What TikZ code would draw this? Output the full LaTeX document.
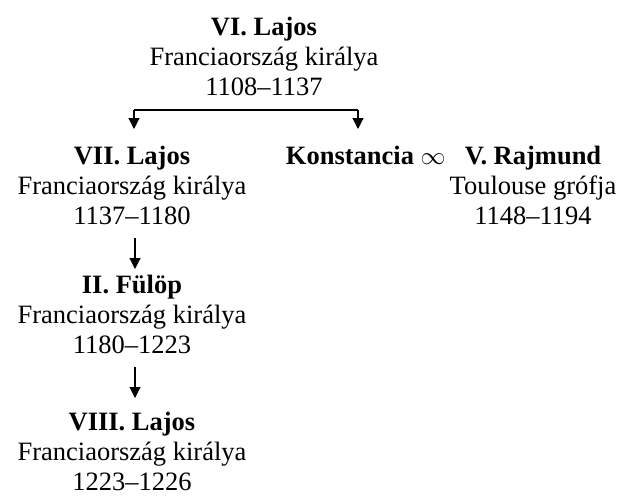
\documentclass[tikz,border=0pt]{standalone}
\usepackage{fontspec}
\setmainfont{Liberation Serif}
\usetikzlibrary{arrows.meta}
\usetikzlibrary{positioning}
\tikzset{
    person/.style={align=center, inner sep=0pt, anchor=base,
        font=\fontsize{26.5}{30}\selectfont},
    descent/.style={draw=black, line width=1.1pt,
        -{Triangle[length=11pt,width=11pt]}},
}

\begin{document}
\begin{tikzpicture}[x=1pt, y=-1pt]
		\useasboundingbox (0,0) rectangle (620,496);
		% kings of France (anchor: baseline of the last line)
		\node[person] (lajosVI) at (264,95) {\textbf{VI. Lajos}\\Franciaország királya\\1108--1137};
		\node[person] (lajosVII) at (132,224) {\textbf{VII. Lajos}\\Franciaország királya\\1137--1180};
		\node[person] (fulop) at (132,353) {\textbf{II. Fülöp}\\Franciaország királya\\1180--1223};
		\node[person] (lajosVIII) at (132,490) {\textbf{VIII. Lajos}\\Franciaország királya\\1223--1226};
		% Konstancia and her husband
		\node[person] (konstancia) at (350,164) {\textbf{Konstancia}};
		\node[person] (hazassag) at (433,164) {$\infty$};
		\node[person] (rajmund) at (533,224) {\textbf{V. Rajmund}\\Toulouse grófja\\1148--1194};
		
		\coordinate (bal) at (134,110);
		\coordinate (jobb) at (358,110);
		\draw[line width=1.1pt] (bal) -- (jobb);
		\draw[descent] (bal) -- (bal |- 0,129);
		\draw[descent] (jobb) -- (jobb |- 0,129);
		\draw[descent] ([xshift=3pt]lajosVII.south |- 0,238) -- ([xshift=3pt]fulop.north |- 0,269);
		\draw[descent] ([xshift=3pt]fulop.south |- 0,367) -- ([xshift=3pt]lajosVIII.north |- 0,398);
\end{tikzpicture}
\end{document}
